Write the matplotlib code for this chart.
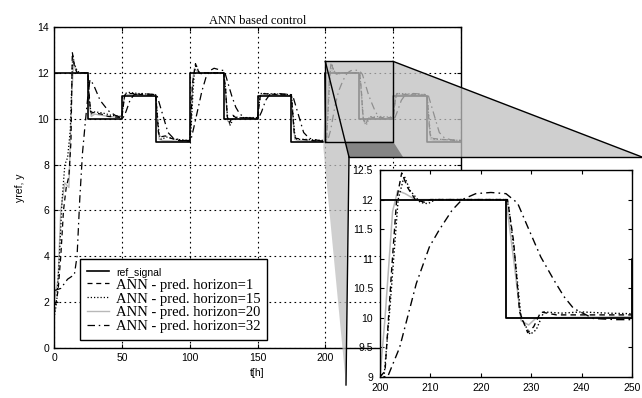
import matplotlib
matplotlib.use("Agg")
import matplotlib.pyplot as plt
from matplotlib.patches import Polygon
import numpy as np

# reference signal (step changes every 25 h)
ref_t = [0, 25, 50, 75, 100, 125, 150, 175, 200, 225, 250, 275, 300]
ref_y = [12, 10, 11, 9, 12, 10, 11, 9, 12, 10, 11, 9, 9]

# ANN, pred. horizon = 1 (dashed)
h1_t = [0, 3, 5, 7, 9, 11, 12.5, 13.5, 15, 17, 25,
        26, 27, 30, 35, 40, 50,
        51, 52, 53, 58, 65, 75,
        76, 77, 78, 82, 86, 92, 100,
        101, 102, 103.3, 104.3, 105.5, 107, 109, 111, 125,
        126.5, 127.7, 129.3, 131.9, 134, 150,
        151, 152, 153, 158, 175,
        176, 177, 178, 183, 190, 200,
        201, 202.3, 203.3, 204.3, 205.5, 207, 209, 210, 225,
        225.3, 226.5, 227.7, 229.3, 230.5, 231.9, 235, 250,
        251, 252, 253, 260, 275,
        276, 277, 278, 285, 300]
h1_y = [1.5, 2.5, 4.0, 6.0, 7.0, 7.5, 9.0, 12.9, 12.3, 12.0, 12.0,
        11.0, 10.3, 10.25, 10.2, 10.1, 10.05,
        10.5, 11.0, 11.1, 11.1, 11.05, 11.02,
        10.2, 9.4, 9.2, 9.25, 9.15, 9.05, 9.02,
        10.0, 11.5, 12.0, 12.4, 12.2, 12.0, 11.95, 12.0, 12.0,
        11.3, 10.1, 9.8, 10.15, 10.05, 10.02,
        10.5, 11.0, 11.1, 11.08, 11.02,
        10.2, 9.4, 9.15, 9.1, 9.05, 9.0,
        9.1, 10.8, 12.0, 12.45, 12.2, 12.0, 11.95, 12.0, 12.0,
        12.0, 11.3, 10.1, 9.75, 9.85, 10.1, 10.05, 10.05,
        10.5, 11.0, 11.1, 11.05, 11.02,
        10.2, 9.4, 9.15, 9.1, 9.05]

# ANN, pred. horizon = 15 (dotted)
h15_t = [0, 2, 4, 6, 8, 10, 12, 13.8, 15, 17, 19, 25,
         26, 27.5, 30, 36, 42, 50,
         51, 52.5, 55, 62, 75,
         76, 77.5, 79, 83, 90, 100,
         101, 102.5, 103.6, 104.8, 106, 108, 110, 125,
         126.3, 127.9, 129.8, 131, 132.5, 136, 150,
         151, 152.5, 155, 175,
         176, 177.5, 179, 185, 200,
         200.8, 202, 203.6, 204.8, 206, 208, 209.5, 211, 225,
         225.5, 226.8, 228, 229.8, 231, 232.5, 236, 240, 245, 250,
         251, 252.5, 255, 275,
         276, 277.5, 279, 285, 300]
h15_y = [1.3, 2.0, 4.0, 6.5, 8.0, 8.3, 9.5, 12.8, 12.4, 12.1, 12.0, 12.0,
         10.8, 10.2, 10.3, 10.25, 10.15, 10.1,
         10.6, 11.1, 11.15, 11.1, 11.05,
         10.3, 9.3, 9.1, 9.2, 9.1, 9.05,
         9.5, 11.2, 12.1, 12.35, 12.15, 11.95, 12.0, 12.0,
         11.4, 10.1, 9.72, 9.85, 10.1, 10.05, 10.05,
         10.6, 11.1, 11.1, 11.05,
         10.3, 9.3, 9.1, 9.1, 9.05,
         9.0, 10.2, 12.0, 12.4, 12.15, 11.95, 11.93, 12.0, 12.0,
         11.9, 11.0, 10.0, 9.72, 9.8, 10.1, 10.08, 10.1, 10.08, 10.07,
         10.6, 11.1, 11.1, 11.05,
         10.3, 9.3, 9.1, 9.1, 9.05]

# ANN, pred. horizon = 20 (light grey)
h20_t = [0, 3, 5, 8, 11, 13, 14.5, 16, 18, 25,
         26, 27.5, 30, 40, 50,
         51, 52.5, 60, 75,
         76, 77.5, 80, 100,
         101, 102.5, 103.5, 105, 107, 125,
         126.5, 128, 129.5, 131, 150,
         151, 152.5, 175,
         176, 177.5, 180, 200,
         201, 202.5, 203.5, 205, 207, 225,
         226.5, 228, 229.5, 231, 250,
         251, 252.5, 275,
         276, 277.5, 280, 300]
h20_y = [2.0, 3.0, 6.0, 7.2, 7.0, 11.0, 12.5, 12.1, 12.0, 12.0,
         10.6, 10.1, 10.2, 10.1, 10.05,
         10.7, 11.05, 11.05, 11.0,
         10.1, 9.1, 9.05, 9.0,
         10.2, 11.8, 12.2, 12.1, 12.0, 12.0,
         11.0, 9.9, 9.85, 10.0, 10.0,
         10.7, 11.05, 11.0,
         10.1, 9.1, 9.05, 9.0,
         10.0, 11.8, 12.15, 12.1, 12.0, 12.0,
         11.0, 9.95, 9.88, 10.0, 10.02,
         10.7, 11.05, 11.0,
         10.1, 9.1, 9.05, 9.0]

# ANN, pred. horizon = 32 (dash-dot, slow)
h32_t = [0, 5, 10, 15, 17, 19, 21, 23, 25, 26.5, 29, 34, 40, 45, 50,
         51, 53, 56, 59, 65, 75,
         76, 78, 81, 84, 88, 95, 100,
         101, 103, 106, 109, 112, 115, 118, 121, 125,
         126, 128, 131, 134, 137, 141, 150,
         151, 153, 156, 159, 165, 175,
         176, 178, 181, 184, 188, 195, 200,
         201.5, 203.9, 207.2, 209.8, 211.7, 214.3, 216.3, 219, 222, 225,
         227.3, 229.3, 231.9, 234.5, 236.5, 238.4, 242.3, 246.9, 250,
         251, 253, 256, 259, 265, 275,
         276, 278, 281, 284, 288, 295, 300]
h32_y = [2.5, 2.6, 3.0, 3.2, 4.0, 6.5, 8.5, 9.8, 11.0, 11.7, 11.5, 10.8, 10.35, 10.15, 10.05,
         10.05, 10.3, 10.8, 11.05, 11.1, 11.05,
         11.0, 10.6, 10.0, 9.4, 9.15, 9.05, 9.05,
         9.1, 9.6, 10.4, 11.2, 11.8, 12.1, 12.2, 12.15, 12.1,
         12.0, 11.6, 11.0, 10.5, 10.2, 10.05, 10.0,
         10.05, 10.3, 10.8, 11.05, 11.1, 11.05,
         11.0, 10.6, 10.0, 9.4, 9.15, 9.05, 9.0,
         9.0, 9.5, 10.58, 11.2, 11.48, 11.82, 12.0, 12.1, 12.12, 12.1,
         11.94, 11.54, 11.03, 10.64, 10.36, 10.16, 9.99, 9.97, 9.97,
         10.0, 10.3, 10.8, 11.05, 11.1, 11.05,
         11.0, 10.6, 10.0, 9.4, 9.15, 9.05, 9.05]

labels = ["ref_signal", "ANN - pred. horizon=1", "ANN - pred. horizon=15",
          "ANN - pred. horizon=20", "ANN - pred. horizon=32"]

plt.rcParams['font.family'] = ['Liberation Sans', 'DejaVu Sans']
plt.rcParams['xtick.direction'] = 'in'
plt.rcParams['ytick.direction'] = 'in'

W, H = 642, 398
fig = plt.figure(figsize=(W / 100, H / 100), dpi=100)


def draw_series(ax, lw=1.0):
    ax.plot(h20_t, h20_y, color='#b8b8b8', lw=lw, label=labels[3], zorder=2)
    ax.plot(h1_t, h1_y, color='black', lw=lw * 0.9, dashes=(4, 3), label=labels[1], zorder=3)
    ax.plot(h15_t, h15_y, color='black', lw=lw * 0.9, dashes=(1, 1.6), label=labels[2], zorder=3)
    ax.plot(h32_t, h32_y, color='black', lw=lw * 0.9, dashes=(6, 3, 1.2, 3), label=labels[4], zorder=3)
    ax.plot(ref_t, ref_y, color='black', lw=lw * 1.2, drawstyle='steps-post', label=labels[0], zorder=4)


# main axes
ax = fig.add_axes([54 / W, 1 - 348 / H, 407 / W, 321 / H], zorder=1)
draw_series(ax)
ax.set_xlim(0, 300)
ax.set_ylim(0, 14)
ax.set_xticks(np.arange(0, 301, 50))
ax.set_yticks(np.arange(0, 15, 2))
ax.tick_params(labelsize=7.5, top=True, right=True, length=3, width=0.8)
ax.grid(True, color='black', linestyle=(0, (1.5, 3)), lw=0.8)
for s in ax.spines.values():
    s.set_linewidth(1.0)
ax.set_title("ANN based control", family='Liberation Serif', fontsize=9, pad=2)
ax.set_xlabel("t[h]", fontsize=7.5, labelpad=4)
ax.set_ylabel("yref, y", fontsize=7.5, labelpad=9)

h, l = ax.get_legend_handles_labels()
order = [l.index(x) for x in labels]
leg = ax.legend([h[i] for i in order], [l[i] for i in order], loc='lower left',
                bbox_to_anchor=(0.064, 0.025), borderaxespad=0, fancybox=False,
                edgecolor='black', framealpha=1,
                prop={'family': 'Liberation Serif', 'size': 10.5},
                handlelength=1.55, handletextpad=0.45, labelspacing=0.05,
                borderpad=0.45)
leg.get_frame().set_linewidth(1.0)
leg.get_texts()[0].set_family('Liberation Sans')
leg.get_texts()[0].set_fontsize(7.5)

# overlay for the zoom shading (pixel coordinates, y down)
ov = fig.add_axes([0, 0, 1, 1], zorder=2)
ov.set_xlim(0, W)
ov.set_ylim(H, 0)
ov.axis('off')
ov.patch.set_alpha(0)

(x0, y0) = ax.transData.transform((200, 12.5))
(x1, y1) = ax.transData.transform((250, 9))
y0, y1 = H - y0, H - y1
yb = 157
xl = x0 + (349 - x0) * (y1 - y0) / (yb - y0)
light = [(x0, y0), (x1, y0), (W, yb), (349, yb), (346, 385), (x0 - 2, y1 + 6)]
dark = [(xl, y1), (x1, y1), (403, yb), (349, yb)]
ov.add_patch(Polygon(light, closed=True, facecolor='#c0c0c0', alpha=0.75, edgecolor='none'))
ov.add_patch(Polygon(dark, closed=True, facecolor='#858585', edgecolor='none'))
ov.plot([x0, x1, x1, x0, x0], [y0, y0, y1, y1, y0], color='black', lw=1.0)
ov.plot([x0, 349], [y0, yb], color='black', lw=1.0)
ov.plot([x1, W], [y0, yb], color='black', lw=1.0)
ov.plot([349, W], [yb, yb], color='black', lw=1.0)
ov.plot([349, 346], [yb, 385], color='black', lw=1.0)

# inset
ins = fig.add_axes([380 / W, 1 - 377 / H, 252 / W, 207 / H], zorder=3)
ins.set_facecolor('white')
draw_series(ins, lw=1.1)
ins.set_xlim(200, 250)
ins.set_ylim(9, 12.5)
ins.set_xticks(np.arange(200, 251, 10))
ins.set_yticks(np.arange(9, 12.51, 0.5))
ins.set_yticklabels(["9", "9.5", "10", "10.5", "11", "11.5", "12", "12.5"])
ins.tick_params(labelsize=7.5, top=True, right=True, length=3, width=0.8)
ins.tick_params(axis='y', pad=5)
ins.tick_params(axis='x', pad=4)
for s in ins.spines.values():
    s.set_linewidth(1.0)

fig.savefig("out.png", dpi=100)
